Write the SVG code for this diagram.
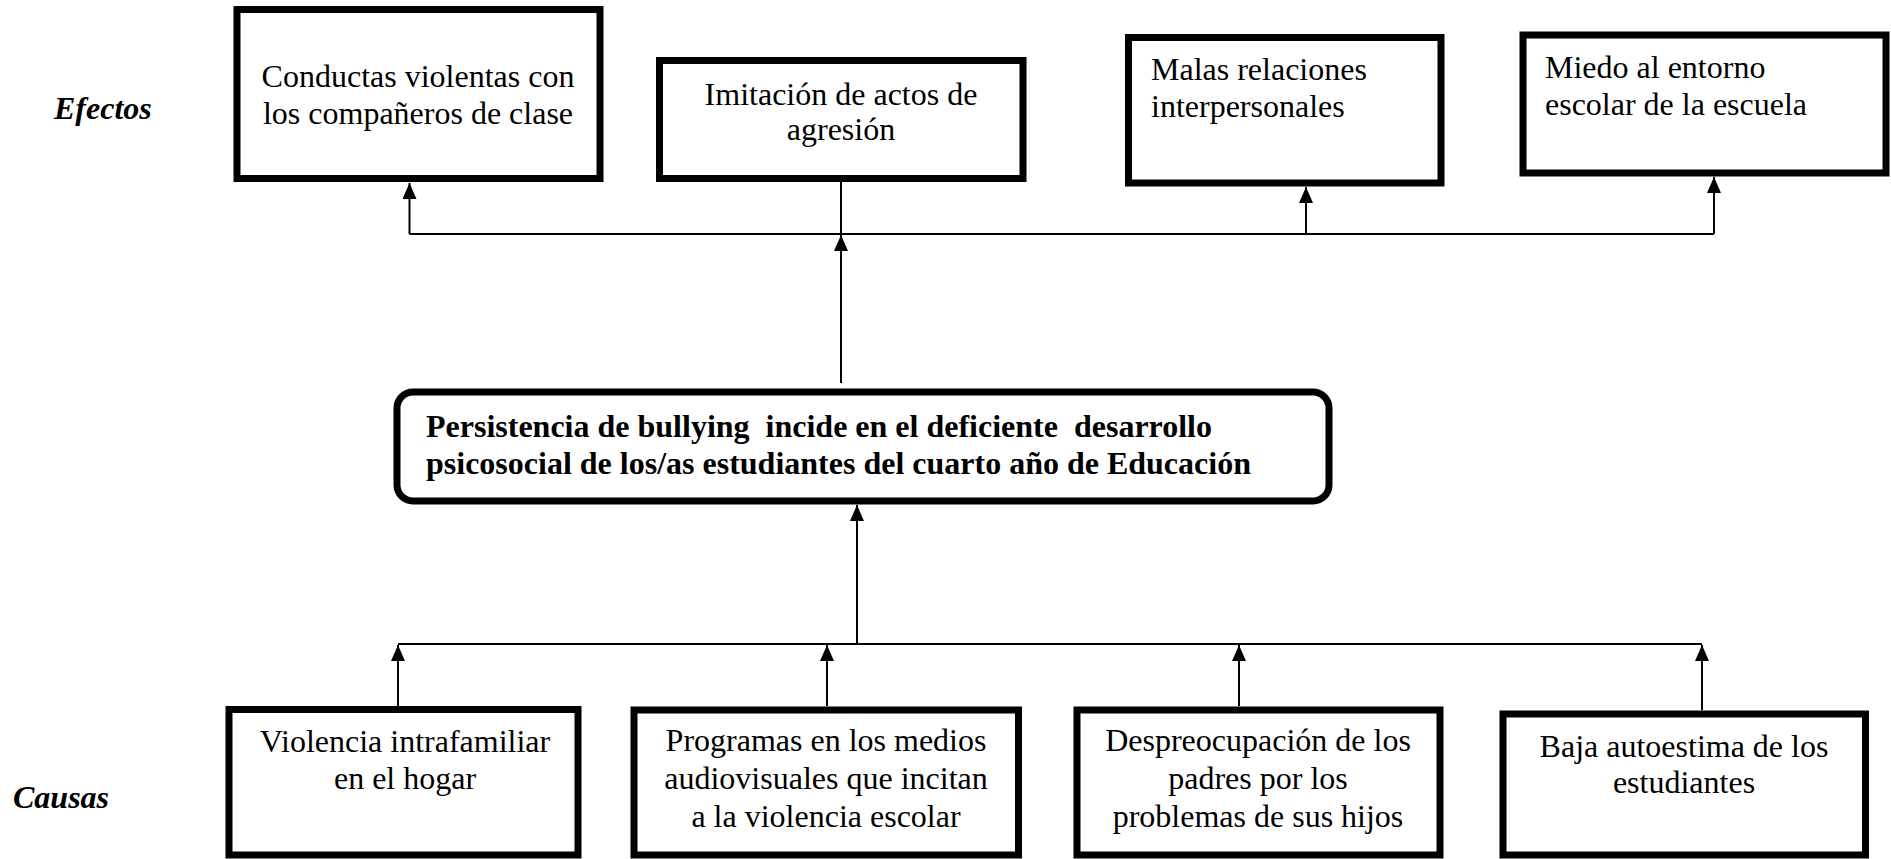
<svg xmlns="http://www.w3.org/2000/svg" width="1891" height="859" viewBox="0 0 1891 859">
<style>
.box{fill:#fff;stroke:#000;stroke-width:7}
.t{font-family:"Liberation Serif","Times New Roman",serif;font-size:32px;fill:#000}
.c{text-anchor:middle}
.b{font-weight:bold}
.lbl{font-family:"Liberation Serif","Times New Roman",serif;font-size:32px;font-weight:bold;font-style:italic;fill:#000}
.ln{stroke:#000;stroke-width:2;fill:none}
</style>
<defs>
<marker id="ah" markerUnits="userSpaceOnUse" markerWidth="16" markerHeight="14" viewBox="0 0 16 14" refX="16" refY="7" orient="auto">
<path d="M0,0 L16,7 L0,14 z" fill="#000"/>
</marker>
</defs>
<rect width="1891" height="859" fill="#fff"/>
<text class="lbl" x="54" y="119">Efectos</text>
<text class="lbl" x="13" y="808">Causas</text>
<g id="connectors">
<line class="ln" x1="409.5" y1="234" x2="1714" y2="234"/>
<line class="ln" x1="409.5" y1="234" x2="409.5" y2="183" marker-end="url(#ah)"/>
<line class="ln" x1="841" y1="182" x2="841" y2="234"/>
<line class="ln" x1="1306" y1="234" x2="1306" y2="187" marker-end="url(#ah)"/>
<line class="ln" x1="1714" y1="234" x2="1714" y2="177" marker-end="url(#ah)"/>
<line class="ln" x1="841" y1="383" x2="841" y2="235" marker-end="url(#ah)"/>
<line class="ln" x1="857" y1="644" x2="857" y2="505" marker-end="url(#ah)"/>
<line class="ln" x1="398" y1="644" x2="1702" y2="644"/>
<line class="ln" x1="398" y1="706" x2="398" y2="645" marker-end="url(#ah)"/>
<line class="ln" x1="827" y1="706" x2="827" y2="645" marker-end="url(#ah)"/>
<line class="ln" x1="1239" y1="706" x2="1239" y2="645" marker-end="url(#ah)"/>
<line class="ln" x1="1702" y1="710" x2="1702" y2="645" marker-end="url(#ah)"/>
</g>
<g id="e1">
<rect class="box" x="237" y="9.5" width="363" height="169"/>
<text class="t c" x="418" y="87">Conductas violentas con</text>
<text class="t c" x="418" y="124">los compañeros de clase</text>
</g>
<g id="e2">
<rect class="box" x="659.5" y="60.5" width="363.5" height="118"/>
<text class="t c" x="841" y="105">Imitación de actos de</text>
<text class="t c" x="841" y="140">agresión</text>
</g>
<g id="e3">
<rect class="box" x="1128.5" y="37.5" width="312.5" height="145.5"/>
<text class="t" x="1151" y="80">Malas relaciones</text>
<text class="t" x="1151" y="117">interpersonales</text>
</g>
<g id="e4">
<rect class="box" x="1523" y="35" width="363" height="138"/>
<text class="t" x="1545" y="78">Miedo al entorno</text>
<text class="t" x="1545" y="115">escolar de la escuela</text>
</g>
<g id="problem">
<rect class="box" x="397" y="392" width="932" height="109" rx="16" ry="16"/>
<text class="t b" x="426" y="437" xml:space="preserve">Persistencia de bullying  incide en el deficiente  desarrollo</text>
<text class="t b" x="426" y="474">psicosocial de los/as estudiantes del cuarto año de Educación</text>
</g>
<g id="c1">
<rect class="box" x="229" y="709.5" width="349" height="145.5"/>
<text class="t c" x="405" y="752">Violencia intrafamiliar</text>
<text class="t c" x="405" y="789">en el hogar</text>
</g>
<g id="c2">
<rect class="box" x="634" y="710" width="384.5" height="145"/>
<text class="t c" x="826" y="751">Programas en los medios</text>
<text class="t c" x="826" y="789">audiovisuales que incitan</text>
<text class="t c" x="826" y="827">a la violencia escolar</text>
</g>
<g id="c3">
<rect class="box" x="1077" y="710" width="363" height="145"/>
<text class="t c" x="1258" y="751">Despreocupación de los</text>
<text class="t c" x="1258" y="789">padres por los</text>
<text class="t c" x="1258" y="827">problemas de sus hijos</text>
</g>
<g id="c4">
<rect class="box" x="1503" y="714" width="362.5" height="141"/>
<text class="t c" x="1684" y="757">Baja autoestima de los</text>
<text class="t c" x="1684" y="793">estudiantes</text>
</g>
</svg>
